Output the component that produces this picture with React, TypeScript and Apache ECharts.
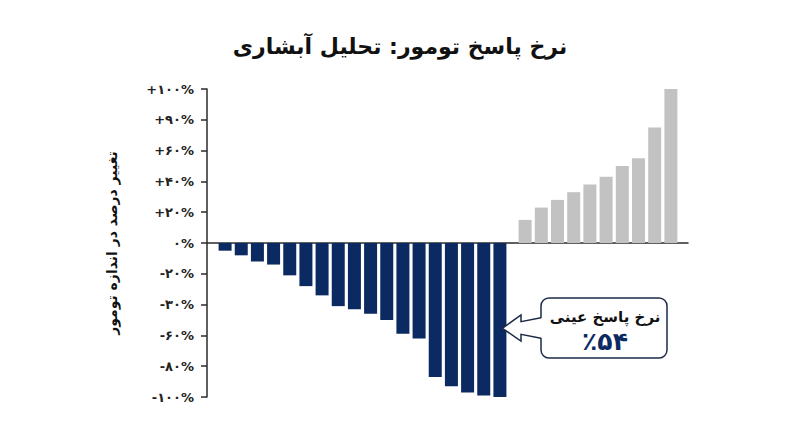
import React, { useEffect, useRef } from 'react';
import * as echarts from 'echarts';

const responders = ['P1', 'P2', 'P3', 'P4', 'P5', 'P6', 'P7', 'P8', 'P9', 'P10', 'P11', 'P12', 'P13', 'P14', 'P15', 'P16', 'P17', 'P18'];
const responderChange = [-5, -8, -12, -14, -21, -28, -34, -41, -43, -46, -50, -59, -62, -87, -93, -97, -99, -100];

const progressors = ['P19', 'P20', 'P21', 'P22', 'P23', 'P24', 'P25', 'P26', 'P27', 'P28'];
const progressorChange = [15, 23, 28, 33, 38, 43, 50, 55, 75, 100];

const tickLabels = ['-۱۰۰%', '-۸۰%', '-۶۰%', '-۳۰%', '-۲۰%', '۰%', '+۲۰%', '+۴۰%', '+۶۰%', '+۹۰%', '+۱۰۰%'];

const FONT = 'DejaVu Sans';
const NAVY = '#0b2a62';
const GRAY = '#c2c2c2';
const INK = '#2b2b2b';

const App: React.FC = () => {
  const chartRef = useRef<HTMLDivElement>(null);

  useEffect(() => {
    if (!chartRef.current) return;
    const chart = echarts.init(chartRef.current, undefined, { renderer: 'svg' });

    const hiddenY = (gridIndex: number) => ({
      type: 'value' as const,
      gridIndex,
      min: -100,
      max: 100,
      show: false,
    });
    const hiddenX = (gridIndex: number, data: string[]) => ({
      type: 'category' as const,
      gridIndex,
      data,
      show: false,
    });

    const option: echarts.EChartsOption = {
      animation: false,
      backgroundColor: '#ffffff',
      textStyle: { fontFamily: FONT },
      title: {
        text: 'نرخ پاسخ تومور: تحلیل آبشاری',
        left: 'center',
        top: 30,
        textStyle: { fontFamily: FONT, fontSize: 22, fontWeight: 'bold', color: '#111' },
      },
      grid: [
        { left: 207, right: 112, top: 89, bottom: 50 },
        { left: 217, right: 292, top: 89, bottom: 50 },
        { left: 517, right: 121, top: 89, bottom: 50 },
      ],
      xAxis: [
        {
          type: 'category',
          gridIndex: 0,
          data: [''],
          axisLine: { show: true, onZero: true, lineStyle: { color: INK, width: 1.5 } },
          axisTick: { show: false },
          axisLabel: { show: false },
        },
        hiddenX(1, responders),
        hiddenX(2, progressors),
      ],
      yAxis: [
        {
          type: 'value',
          gridIndex: 0,
          min: -100,
          max: 100,
          interval: 20,
          name: 'تغییر درصد در اندازه تومور',
          nameLocation: 'middle',
          nameGap: 88,
          nameTextStyle: { fontFamily: FONT, fontSize: 14, fontWeight: 'bold', color: '#111' },
          splitLine: { show: false },
          axisLine: { show: true, lineStyle: { color: INK, width: 1.5 } },
          axisTick: { show: true, length: 6, lineStyle: { color: INK, width: 1.5 } },
          axisLabel: {
            margin: 13,
            fontFamily: FONT,
            fontSize: 13,
            fontWeight: 'bold',
            color: '#222',
            formatter: (v: number) => tickLabels[Math.round((v + 100) / 20)] ?? '',
          },
        },
        hiddenY(1),
        hiddenY(2),
      ],
      series: [
        {
          type: 'bar',
          xAxisIndex: 1,
          yAxisIndex: 1,
          data: responderChange,
          barWidth: 13,
          itemStyle: { color: NAVY },
          z: 1,
        },
        {
          type: 'bar',
          xAxisIndex: 2,
          yAxisIndex: 2,
          data: progressorChange,
          barWidth: 13,
          itemStyle: { color: GRAY },
          z: 1,
        },
      ],
      graphic: [
        {
          type: 'rect',
          shape: { x: 541, y: 298, width: 126, height: 60, r: 8 },
          style: { fill: '#ffffff', stroke: '#1d2b48', lineWidth: 1.5 },
          z: 10,
        },
        {
          type: 'polygon',
          shape: {
            points: [
              [543, 317.7], [521, 321.7], [521, 315], [502.3, 328.3],
              [521, 341], [521, 334.3], [543, 338.3],
            ],
          },
          style: { fill: '#ffffff', stroke: 'none' },
          z: 11,
        },
        {
          type: 'polyline',
          shape: {
            points: [
              [541, 317.7], [521, 321.7], [521, 315], [502.3, 328.3],
              [521, 341], [521, 334.3], [541, 338.3],
            ],
          },
          style: { fill: 'none', stroke: '#1d2b48', lineWidth: 1.5 },
          z: 12,
        },
        {
          type: 'text',
          x: 605,
          y: 317,
          style: {
            text: 'نرخ پاسخ عینی',
            fill: '#111',
            font: `bold 15px "${FONT}"`,
            align: 'center',
            verticalAlign: 'middle',
          },
          z: 13,
        },
        {
          type: 'text',
          x: 605,
          y: 341,
          style: {
            text: '٪۵۴',
            fill: NAVY,
            font: `bold 25px "${FONT}"`,
            align: 'center',
            verticalAlign: 'middle',
          },
          z: 13,
        },
      ],
    };

    chart.setOption(option);
    return () => chart.dispose();
  }, []);

  return (
    <div
      ref={chartRef}
      style={{ position: 'fixed', left: 0, top: 0, width: 800, height: 447 }}
    />
  );
};

export default App;
